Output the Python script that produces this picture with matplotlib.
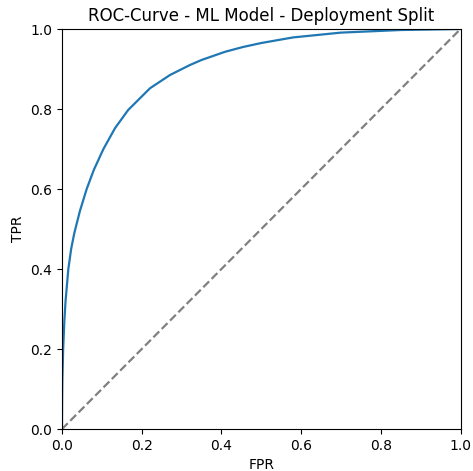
import matplotlib
matplotlib.use("Agg")
import matplotlib.pyplot as plt

# ROC operating points (false positive rate / true positive rate)
fpr = [0.0, 0.0005, 0.001, 0.003, 0.006, 0.009, 0.016, 0.023, 0.031, 0.045,
       0.062, 0.080, 0.104, 0.133, 0.166, 0.221, 0.271, 0.321, 0.35, 0.409,
       0.454, 0.50, 0.58, 0.70, 0.85, 1.0]
tpr = [0.0, 0.08, 0.12, 0.2, 0.27, 0.32, 0.4, 0.45, 0.49, 0.545,
       0.60, 0.648, 0.70, 0.752, 0.7975, 0.852, 0.885, 0.91, 0.9225, 0.943,
       0.955, 0.965, 0.979, 0.991, 0.9975, 1.0]

fig = plt.figure(figsize=(4.73, 4.71), dpi=100)
ax = fig.add_axes([0.131, 0.089, 0.8426, 0.8494])

ax.plot(fpr, tpr, color="#1f77b4", lw=1.6)
ax.plot([0, 1], [0, 1], color="gray", ls="--", lw=1.6)

ax.set_xlim(0, 1)
ax.set_ylim(0, 1)
ax.set_xlabel("FPR")
ax.set_ylabel("TPR")
ax.set_title("ROC-Curve - ML Model - Deployment Split", fontsize=12)

fig.savefig("out.png", dpi=100)
